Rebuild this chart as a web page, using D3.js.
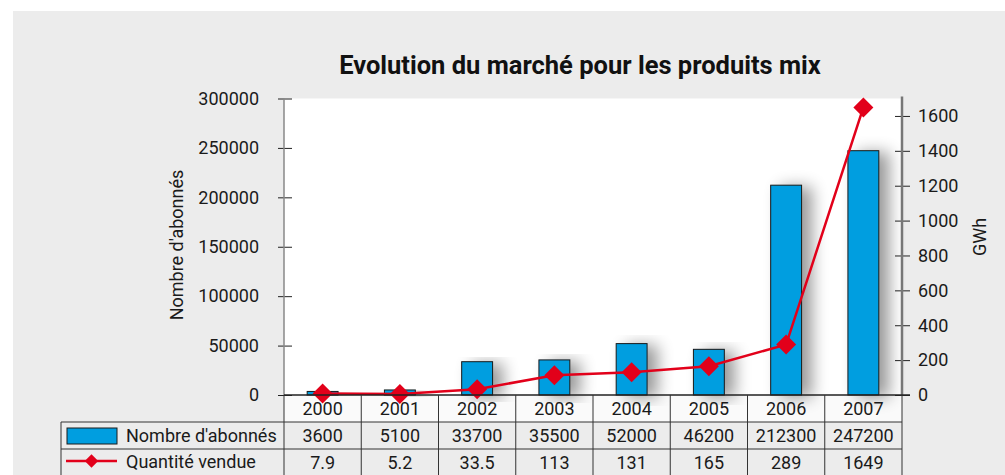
<!DOCTYPE html>
<html>
<head>
<meta charset="utf-8">
<script src="https://cdn.jsdelivr.net/npm/d3@7"></script>
<style>
  body { margin: 0; background: #fff; }
  svg { display: block; font-family: Roboto, sans-serif; }
</style>
</head>
<body>
<svg id="chart"></svg>
<script>
// donnees
const years = ['2000', '2001', '2002', '2003', '2004', '2005', '2006', '2007']
const abonnes = [3600, 5100, 33700, 35500, 52000, 46200, 212300, 247200]
const quantite = [7.9, 5.2, 33.5, 113, 131, 165, 289, 1649]
const quantiteLabels = ['7.9', '5.2', '33.5', '113', '131', '165', '289', '1649']
const leftTicks = [0, 50000, 100000, 150000, 200000, 250000, 300000]
const rightTicks = [0, 200, 400, 600, 800, 1000, 1200, 1400, 1600]

const width = 1005, height = 475
const plot = { left: 284, right: 902, top: 98.5, bottom: 395 }
const rowH = 27
const tableLeft = 61
const fs = 18

const svg = d3.select('#chart').attr('width', width).attr('height', height)

const defs = svg.append('defs')
const shadow = defs.append('filter').attr('id', 'shadow')
    .attr('x', '-60%').attr('y', '-20%').attr('width', '260%').attr('height', '140%')
shadow.append('feGaussianBlur').attr('in', 'SourceAlpha').attr('stdDeviation', 8)
shadow.append('feOffset').attr('dx', 10).attr('dy', 2).attr('result', 'blur')
shadow.append('feComponentTransfer').append('feFuncA').attr('type', 'linear').attr('slope', 0.4)
let merge = shadow.append('feMerge')
merge.append('feMergeNode')
merge.append('feMergeNode').attr('in', 'SourceGraphic')

// fond gris
svg.append('rect').attr('x', 13).attr('y', 11).attr('width', width - 13).attr('height', height - 11)
    .attr('fill', '#ececec')

// zone du graphique
svg.append('rect')
    .attr('x', plot.left).attr('y', plot.top)
    .attr('width', plot.right - plot.left).attr('height', plot.bottom - plot.top)
    .attr('fill', '#fff')
// ligne des annees en blanc
svg.append('rect')
    .attr('x', plot.left).attr('y', plot.bottom)
    .attr('width', plot.right - plot.left).attr('height', rowH)
    .attr('fill', '#fafafa')

let x = d3.scaleBand().domain(years).range([plot.left, plot.right]).padding(0)
let yLeft = d3.scaleLinear().domain([0, 300000]).range([plot.bottom, plot.top])
let yRight = d3.scaleLinear().domain([0, 1700]).range([plot.bottom, plot.top])

// titre
svg.append('text')
    .attr('x', 580).attr('y', 74)
    .attr('text-anchor', 'middle')
    .attr('font-size', 25.5).attr('font-weight', 'bold').attr('fill', '#111')
    .text('Evolution du marché pour les produits mix')

// barres
const barW = x.bandwidth() * 0.4
svg.append('g')
    .selectAll('rect')
    .data(abonnes)
    .enter().append('rect')
    .attr('x', (d, i) => x(years[i]) + (x.bandwidth() - barW) / 2)
    .attr('y', d => yLeft(d))
    .attr('width', barW)
    .attr('height', d => plot.bottom - yLeft(d))
    .attr('fill', '#009ee0')
    .attr('stroke', '#1a1a1a').attr('stroke-width', 1)
    .attr('filter', 'url(#shadow)')

// axe gauche
let leftAxis = d3.axisLeft(yLeft).tickValues(leftTicks).tickSize(0).tickPadding(0).tickFormat(d3.format('d'))
let gl = svg.append('g').attr('transform', `translate(${plot.left},0)`).call(leftAxis)
gl.select('.domain').remove()
gl.selectAll('.tick text').attr('x', -25).attr('font-size', fs).attr('fill', '#1a1a1a')
    .attr('font-family', 'Roboto, sans-serif')
gl.selectAll('.tick').append('line').attr('x1', -6).attr('x2', 8).attr('stroke', '#222')
svg.append('line').attr('x1', plot.left).attr('x2', plot.left)
    .attr('y1', plot.top).attr('y2', plot.bottom).attr('stroke', '#888').attr('stroke-width', 1.5)

// axe droit
let rightAxis = d3.axisRight(yRight).tickValues(rightTicks).tickSize(0).tickPadding(0).tickFormat(d3.format('d'))
let gr = svg.append('g').attr('transform', `translate(${plot.right},0)`).call(rightAxis)
gr.select('.domain').remove()
gr.selectAll('.tick text').attr('x', 16).attr('font-size', fs).attr('fill', '#1a1a1a')
    .attr('font-family', 'Roboto, sans-serif')
gr.selectAll('.tick').append('line').attr('x1', -7).attr('x2', 8).attr('stroke', '#222')
svg.append('line').attr('x1', plot.right).attr('x2', plot.right)
    .attr('y1', plot.top - 2).attr('y2', plot.bottom).attr('stroke', '#777').attr('stroke-width', 2.5)

// titres des axes
svg.append('text').attr('transform', `translate(183,245) rotate(-90)`)
    .attr('text-anchor', 'middle').attr('font-size', fs).attr('fill', '#1a1a1a')
    .text("Nombre d'abonnés")
svg.append('text').attr('transform', `translate(986,237) rotate(-90)`)
    .attr('text-anchor', 'middle').attr('font-size', fs).attr('fill', '#1a1a1a')
    .text('GWh')

// courbe
let line = d3.line()
    .x((d, i) => x(years[i]) + x.bandwidth() / 2)
    .y(d => yRight(d))
svg.append('path').datum(quantite)
    .attr('d', line).attr('fill', 'none')
    .attr('stroke', '#e2001a').attr('stroke-width', 2.5)

const diamond = d3.symbol().type(d3.symbolSquare).size(200)
svg.append('g').selectAll('path')
    .data(quantite)
    .enter().append('path')
    .attr('d', diamond)
    .attr('transform', (d, i) => `translate(${x(years[i]) + x.bandwidth() / 2},${yRight(d)}) rotate(45)`)
    .attr('fill', '#e2001a')

// ligne de base
svg.append('line').attr('x1', plot.left).attr('x2', plot.right + 8)
    .attr('y1', plot.bottom).attr('y2', plot.bottom).attr('stroke', '#222').attr('stroke-width', 1.5)

// tableau de donnees
const grid = svg.append('g').attr('stroke', '#333').attr('stroke-width', 1)
x.domain().concat(['end']).forEach((yr, i) => {
    let xx = i < years.length ? x(yr) : plot.right
    grid.append('line').attr('x1', xx).attr('x2', xx)
        .attr('y1', plot.bottom).attr('y2', height)
})
grid.append('line').attr('x1', tableLeft).attr('x2', tableLeft).attr('y1', plot.bottom + rowH).attr('y2', height)
grid.append('line').attr('x1', tableLeft).attr('x2', plot.right)
    .attr('y1', plot.bottom + rowH).attr('y2', plot.bottom + rowH)
grid.append('line').attr('x1', tableLeft).attr('x2', plot.right)
    .attr('y1', plot.bottom + rowH * 2).attr('y2', plot.bottom + rowH * 2)

const rows = [years, abonnes.map(String), quantiteLabels]
rows.forEach((row, r) => {
    svg.append('g').selectAll('text')
        .data(row)
        .enter().append('text')
        .attr('x', (d, i) => x(years[i]) + x.bandwidth() / 2)
        .attr('y', plot.bottom + rowH * r + 20)
        .attr('text-anchor', 'middle')
        .attr('font-size', fs).attr('fill', '#1a1a1a')
        .text(d => d)
})

// legende dans le tableau
svg.append('rect').attr('x', 67).attr('y', plot.bottom + rowH + 6)
    .attr('width', 50).attr('height', 16)
    .attr('fill', '#009ee0').attr('stroke', '#1a1a1a')
svg.append('text').attr('x', 126).attr('y', plot.bottom + rowH + 20)
    .attr('font-size', fs).attr('fill', '#1a1a1a').text("Nombre d'abonnés")
svg.append('line').attr('x1', 66).attr('x2', 117)
    .attr('y1', plot.bottom + rowH * 2 + 12).attr('y2', plot.bottom + rowH * 2 + 12)
    .attr('stroke', '#e2001a').attr('stroke-width', 2.5)
svg.append('path').attr('d', d3.symbol().type(d3.symbolSquare).size(90))
    .attr('transform', `translate(91.5,${plot.bottom + rowH * 2 + 12}) rotate(45)`)
    .attr('fill', '#e2001a')
svg.append('text').attr('x', 126).attr('y', plot.bottom + rowH * 2 + 19)
    .attr('font-size', fs).attr('fill', '#1a1a1a').text('Quantité vendue')
</script>
</body>
</html>
